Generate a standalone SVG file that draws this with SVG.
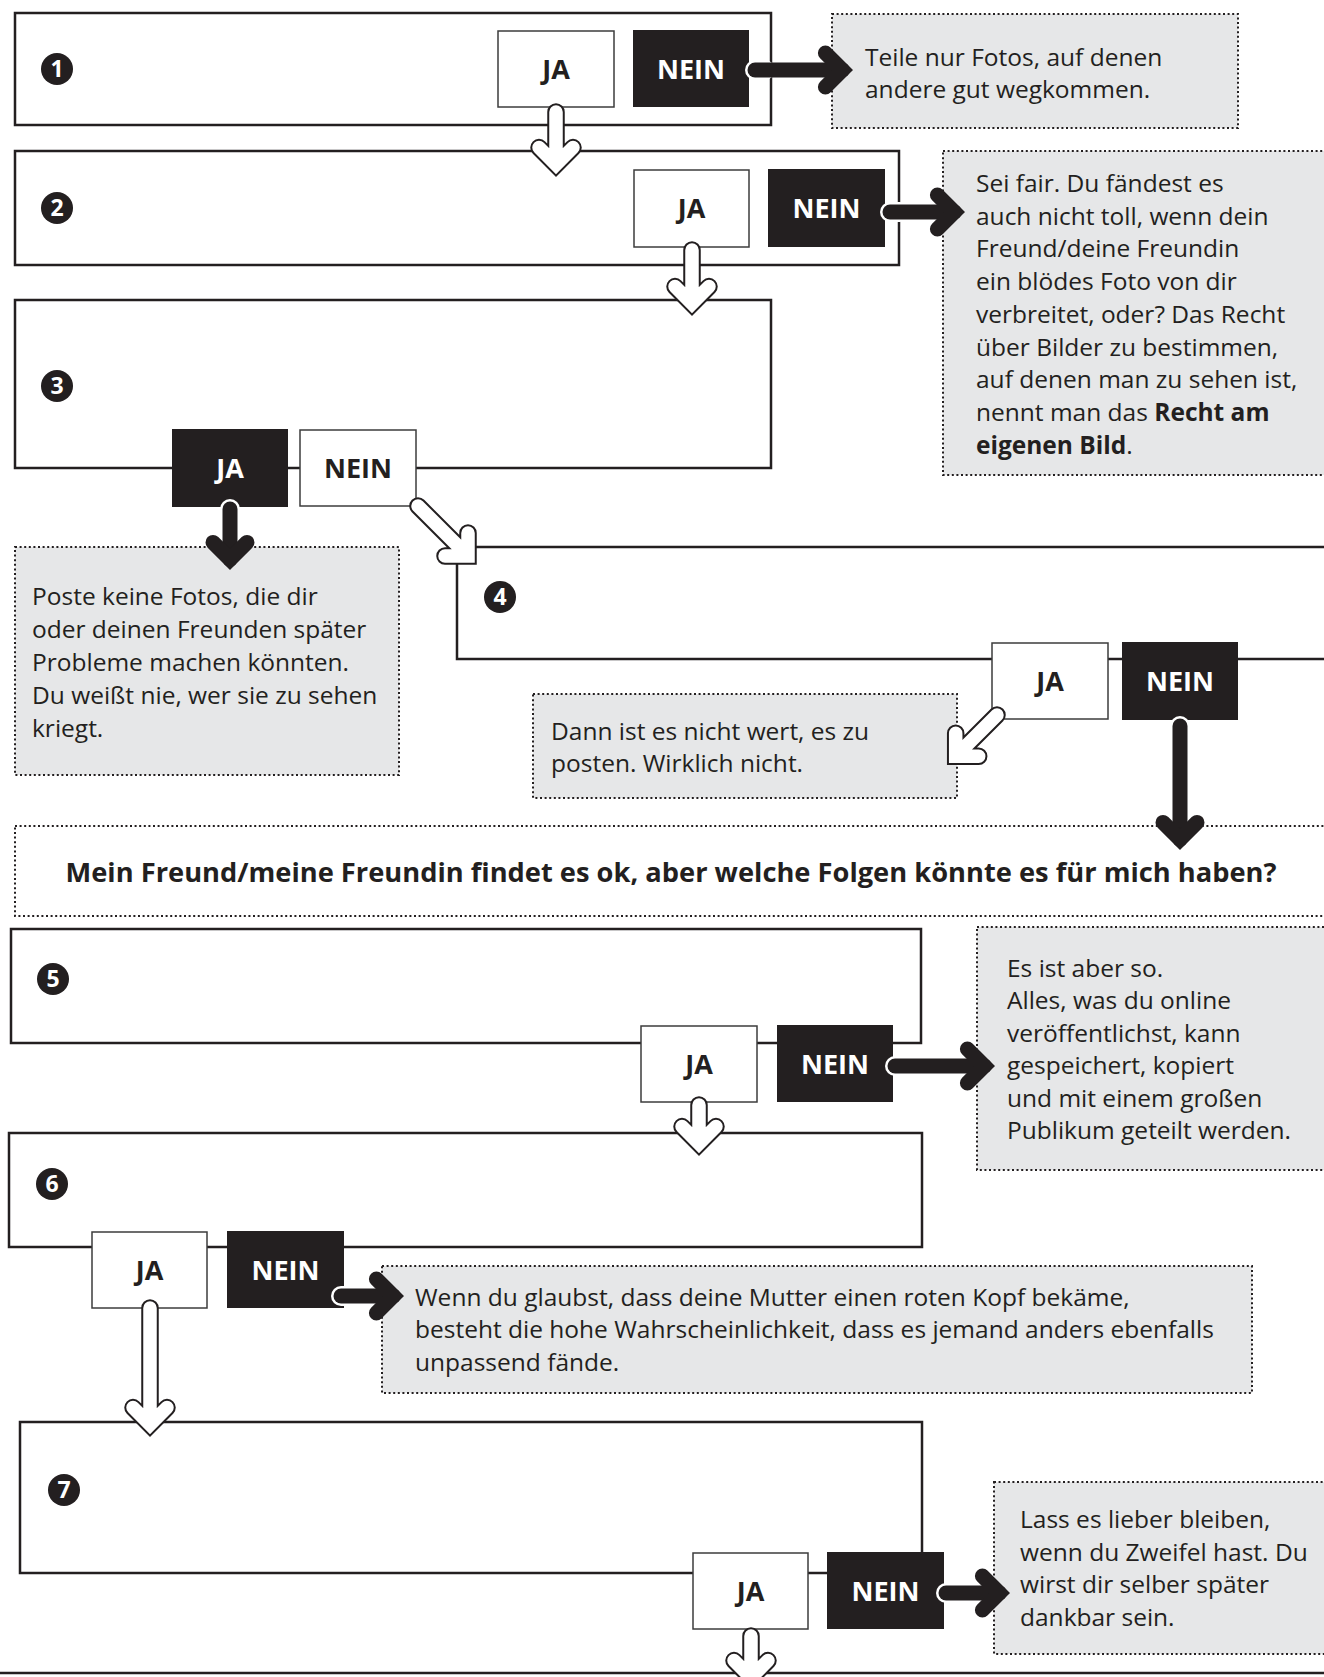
<svg xmlns="http://www.w3.org/2000/svg" width="1324" height="1677" viewBox="0 0 1324 1677">
<style>
.bg{fill:#fff}
.box{fill:#fff;stroke:#231f20;stroke-width:2.5}
.ja{fill:#fff;stroke:#3c3c3c;stroke-width:1.5}
.nein{fill:#231f20}
.note{fill:#e6e7e8;stroke:#231f20;stroke-width:2;stroke-dasharray:2 2.6}
.banner{fill:#fff;stroke:#231f20;stroke-width:2;stroke-dasharray:2 2.6}
.lbl{font-family:"Open Sans","Liberation Sans",sans-serif;font-weight:700;font-size:27px;text-anchor:middle}
.lj{fill:#231f20}
.ln{fill:#fff}
.dot{fill:#231f20}
.numt{font-family:"Open Sans","Liberation Sans",sans-serif;font-weight:700;font-size:23px;fill:#fff;text-anchor:middle}
.t{font-family:"Open Sans","Liberation Sans",sans-serif;font-size:24.5px;fill:#231f20}
.b{font-weight:700}
.head{font-family:"Open Sans","Liberation Sans",sans-serif;font-size:27px;font-weight:700;fill:#231f20;text-anchor:middle}
.ho{fill:none;stroke:#231f20;stroke-width:17.5;stroke-linecap:round;stroke-linejoin:miter}
.hi{fill:none;stroke:#fff;stroke-width:13.5;stroke-linecap:round;stroke-linejoin:miter}
.bw{fill:none;stroke:#fff;stroke-width:20;stroke-linecap:round}
.bs{fill:none;stroke:#231f20;stroke-width:15;stroke-linecap:round}
.bh{fill:none;stroke:#231f20;stroke-width:15;stroke-linecap:round;stroke-linejoin:miter}
.edge{fill:none;stroke:#231f20;stroke-width:2.5}
</style>
<rect class="bg" x="0" y="0" width="1324" height="1677"/>

<g id="q1">
  <rect class="box" x="15" y="13" width="756" height="112"/>
  <circle class="dot" cx="57" cy="69" r="16"/><text class="numt" x="57" y="77">1</text>
  <rect class="ja" x="498" y="31" width="116" height="76"/><text class="lbl lj" x="556" y="79">JA</text>
  <rect class="nein" x="633" y="30" width="116" height="77"/><text class="lbl ln" x="691" y="79">NEIN</text>
</g>
<g id="n1">
  <rect class="note" x="832" y="14" width="406" height="114"/>
  <text class="t" x="865" y="65.5">Teile nur Fotos, auf denen</text>
  <text class="t" x="865" y="98">andere gut wegkommen.</text>
</g>

<g id="q2">
  <rect class="box" x="15" y="151" width="884" height="114"/>
  <circle class="dot" cx="57" cy="208" r="16"/><text class="numt" x="57" y="216">2</text>
  <rect class="ja" x="634" y="170" width="115" height="77"/><text class="lbl lj" x="691.5" y="218">JA</text>
  <rect class="nein" x="768" y="169" width="117" height="78"/><text class="lbl ln" x="826.5" y="218">NEIN</text>
</g>
<g id="n2">
  <rect class="note" x="943" y="151" width="400" height="324"/>
  <text class="t" x="976" y="192">Sei fair. Du fändest es</text>
  <text class="t" x="976" y="224.7">auch nicht toll, wenn dein</text>
  <text class="t" x="976" y="257.4">Freund/deine Freundin</text>
  <text class="t" x="976" y="290.1">ein blödes Foto von dir</text>
  <text class="t" x="976" y="322.8">verbreitet, oder? Das Recht</text>
  <text class="t" x="976" y="355.5">über Bilder zu bestimmen,</text>
  <text class="t" x="976" y="388.2">auf denen man zu sehen ist,</text>
  <text class="t" x="976" y="420.9">nennt man das <tspan class="b">Recht am</tspan></text>
  <text class="t" x="976" y="453.6"><tspan class="b">eigenen Bild</tspan>.</text>
</g>

<g id="q3">
  <rect class="box" x="15" y="300" width="756" height="168"/>
  <circle class="dot" cx="57" cy="386" r="16"/><text class="numt" x="57" y="394">3</text>
  <rect class="nein" x="172" y="429" width="116" height="78"/><text class="lbl ln" x="230" y="478">JA</text>
  <rect class="ja" x="300" y="430" width="116" height="76"/><text class="lbl lj" x="358" y="478">NEIN</text>
</g>
<g id="n3">
  <rect class="note" x="15" y="547" width="384" height="228"/>
  <text class="t" x="32" y="605">Poste keine Fotos, die dir</text>
  <text class="t" x="32" y="638">oder deinen Freunden später</text>
  <text class="t" x="32" y="671">Probleme machen könnten.</text>
  <text class="t" x="32" y="704">Du weißt nie, wer sie zu sehen</text>
  <text class="t" x="32" y="737">kriegt.</text>
</g>

<g id="q4">
  <rect class="box" x="457" y="547" width="900" height="112"/>
  <circle class="dot" cx="500" cy="597" r="16"/><text class="numt" x="500" y="605">4</text>
  <rect class="ja" x="992" y="643" width="116" height="76"/><text class="lbl lj" x="1050" y="691">JA</text>
  <rect class="nein" x="1122" y="642" width="116" height="78"/><text class="lbl ln" x="1180" y="691">NEIN</text>
</g>
<g id="n4">
  <rect class="note" x="533" y="694" width="424" height="104"/>
  <text class="t" x="551" y="740">Dann ist es nicht wert, es zu</text>
  <text class="t" x="551" y="772">posten. Wirklich nicht.</text>
</g>

<g id="banner">
  <rect class="banner" x="15" y="826" width="1340" height="90"/>
  <text class="head" x="671" y="882" textLength="1211" lengthAdjust="spacingAndGlyphs">Mein Freund/meine Freundin findet es ok, aber welche Folgen könnte es für mich haben?</text>
</g>

<g id="q5">
  <rect class="box" x="11" y="929" width="910" height="114"/>
  <circle class="dot" cx="53" cy="979" r="16"/><text class="numt" x="53" y="987">5</text>
  <rect class="ja" x="641" y="1026" width="116" height="76"/><text class="lbl lj" x="699" y="1074">JA</text>
  <rect class="nein" x="777" y="1025" width="116" height="77"/><text class="lbl ln" x="835" y="1074">NEIN</text>
</g>
<g id="n5">
  <rect class="note" x="977" y="927" width="380" height="243"/>
  <text class="t" x="1007" y="976.5">Es ist aber so.</text>
  <text class="t" x="1007" y="1009">Alles, was du online</text>
  <text class="t" x="1007" y="1041.5">veröffentlichst, kann</text>
  <text class="t" x="1007" y="1074">gespeichert, kopiert</text>
  <text class="t" x="1007" y="1106.5">und mit einem großen</text>
  <text class="t" x="1007" y="1139">Publikum geteilt werden.</text>
</g>

<g id="q6">
  <rect class="box" x="9" y="1133" width="913" height="114"/>
  <circle class="dot" cx="52" cy="1184" r="16"/><text class="numt" x="52" y="1192">6</text>
  <rect class="ja" x="92" y="1232" width="115" height="76"/><text class="lbl lj" x="149.5" y="1280">JA</text>
  <rect class="nein" x="227" y="1231" width="117" height="77"/><text class="lbl ln" x="285.5" y="1280">NEIN</text>
</g>
<g id="n6">
  <rect class="note" x="382" y="1266" width="870" height="127"/>
  <text class="t" x="415" y="1305.5">Wenn du glaubst, dass deine Mutter einen roten Kopf bekäme,</text>
  <text class="t" x="415" y="1338">besteht die hohe Wahrscheinlichkeit, dass es jemand anders ebenfalls</text>
  <text class="t" x="415" y="1370.5">unpassend fände.</text>
</g>

<g id="q7">
  <rect class="box" x="20" y="1422" width="902" height="151"/>
  <circle class="dot" cx="64" cy="1490" r="16"/><text class="numt" x="64" y="1498">7</text>
  <rect class="ja" x="693" y="1553" width="115" height="76"/><text class="lbl lj" x="750.5" y="1601">JA</text>
  <rect class="nein" x="827" y="1552" width="117" height="77"/><text class="lbl ln" x="885.5" y="1601">NEIN</text>
</g>
<g id="n7">
  <rect class="note" x="994" y="1482" width="360" height="172"/>
  <text class="t" x="1020" y="1528">Lass es lieber bleiben,</text>
  <text class="t" x="1020" y="1560.5">wenn du Zweifel hast. Du</text>
  <text class="t" x="1020" y="1593">wirst dir selber später</text>
  <text class="t" x="1020" y="1625.5">dankbar sein.</text>
</g>

<g id="q8">
  <line class="edge" x1="0" y1="1673" x2="1324" y2="1673"/>
</g>

<g id="connectors">
  <path class="ho" d="M556 112 L556 164.6 M539 147.6 L556 164.6 L573 147.6"/>
  <path class="hi" d="M556 112 L556 164.6 M539 147.6 L556 164.6 L573 147.6"/>

  <path class="ho" d="M692 250 L692 303.6 M675 286.6 L692 303.6 L709 286.6"/>
  <path class="hi" d="M692 250 L692 303.6 M675 286.6 L692 303.6 L709 286.6"/>

  <path class="ho" d="M418 506 L468 556 M445 556 L468 556 L468 533"/>
  <path class="hi" d="M418 506 L468 556 M445 556 L468 556 L468 533"/>

  <path class="ho" d="M997 715 L955.7 756.3 M978.7 756.3 L955.7 756.3 L955.7 733.3"/>
  <path class="hi" d="M997 715 L955.7 756.3 M978.7 756.3 L955.7 756.3 L955.7 733.3"/>

  <path class="ho" d="M699 1105 L699 1143.6 M682 1126.6 L699 1143.6 L716 1126.6"/>
  <path class="hi" d="M699 1105 L699 1143.6 M682 1126.6 L699 1143.6 L716 1126.6"/>

  <path class="ho" d="M150 1308 L150 1424.6 M133 1407.6 L150 1424.6 L167 1407.6"/>
  <path class="hi" d="M150 1308 L150 1424.6 M133 1407.6 L150 1424.6 L167 1407.6"/>

  <path class="ho" d="M751 1636 L751 1677.6 M734 1660.6 L751 1677.6 L768 1660.6"/>
  <path class="hi" d="M751 1636 L751 1677.6 M734 1660.6 L751 1677.6 L768 1660.6"/>

  <path class="bw" d="M755 70 L765 70"/>
  <path class="bs" d="M755 70 L842.4 70"/>
  <path class="bh" d="M825.4 53 L842.4 70 L825.4 87"/>

  <path class="bw" d="M890 212 L900 212"/>
  <path class="bs" d="M890 212 L954.4 212"/>
  <path class="bh" d="M937.4 195 L954.4 212 L937.4 229"/>

  <path class="bw" d="M230 509 L230 519"/>
  <path class="bs" d="M230 509 L230 559.4"/>
  <path class="bh" d="M213 542.4 L230 559.4 L247 542.4"/>

  <path class="bw" d="M1180 726 L1180 736"/>
  <path class="bs" d="M1180 726 L1180 839.4"/>
  <path class="bh" d="M1163 822.4 L1180 839.4 L1197 822.4"/>

  <path class="bw" d="M895 1066 L905 1066"/>
  <path class="bs" d="M895 1066 L984.4 1066"/>
  <path class="bh" d="M967.4 1049 L984.4 1066 L967.4 1083"/>

  <path class="bw" d="M341 1296 L351 1296"/>
  <path class="bs" d="M341 1296 L393.4 1296"/>
  <path class="bh" d="M376.4 1279 L393.4 1296 L376.4 1313"/>

  <path class="bw" d="M946 1593 L956 1593"/>
  <path class="bs" d="M946 1593 L999.4 1593"/>
  <path class="bh" d="M982.4 1576 L999.4 1593 L982.4 1610"/>
</g>
</svg>
